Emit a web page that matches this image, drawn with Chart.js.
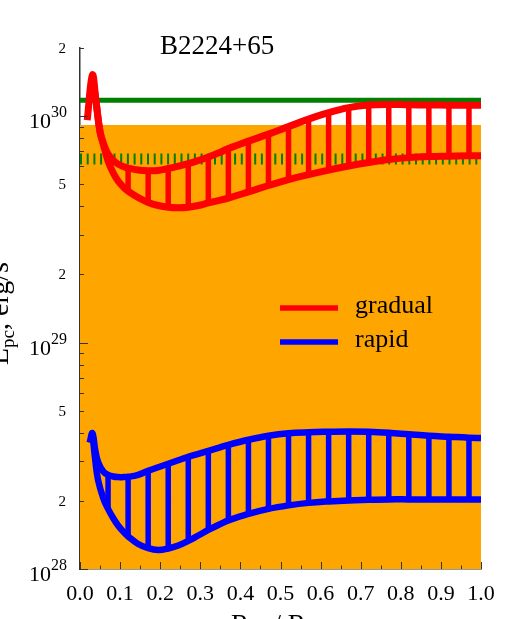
<!DOCTYPE html>
<html>
<head>
<meta charset="utf-8">
<script src="https://cdn.jsdelivr.net/npm/chart.js@4.4.0/dist/chart.umd.min.js"></script>
<style>
    html, body { margin: 0; padding: 0; background: #fff; }
</style>
</head>
<body>
<canvas id="chart" width="510" height="619"></canvas>
<script>
// 曲線數據 (x = 0..1)
const redX = [0.018, 0.031, 0.04, 0.05, 0.06, 0.07, 0.083, 0.095, 0.108, 0.12, 0.145, 0.17, 0.195, 0.22, 0.245, 0.27, 0.295, 0.32, 0.345, 0.37, 0.42, 0.47, 0.52, 0.57, 0.62, 0.67, 0.72, 0.77, 0.82, 0.87, 0.92, 0.97, 1.0];
const redUpper = [9.6e29, 1.52e30, 1.16e30, 8.53e29, 7.45e29, 6.8e29, 6.37e29, 6.14e29, 5.99e29, 5.9e29, 5.78e29, 5.74e29, 5.76e29, 5.87e29, 6.01e29, 6.17e29, 6.37e29, 6.6e29, 6.87e29, 7.19e29, 7.76e29, 8.33e29, 8.99e29, 9.7e29, 1.036e30, 1.09e30, 1.12e30, 1.127e30, 1.122e30, 1.12e30, 1.118e30, 1.117e30, 1.117e30];
const redLower = [null, 1.52e30, 1.16e30, 8.53e29, 7.3e29, 6.33e29, 5.61e29, 5.17e29, 4.87e29, 4.67e29, 4.375e29, 4.16e29, 4.03e29, 3.96e29, 3.94e29, 3.96e29, 4.03e29, 4.14e29, 4.24e29, 4.35e29, 4.63e29, 4.94e29, 5.25e29, 5.52e29, 5.78e29, 6.02e29, 6.24e29, 6.43e29, 6.56e29, 6.63e29, 6.66e29, 6.69e29, 6.69e29];

const blueX = [0.024, 0.031, 0.038, 0.045, 0.058, 0.07, 0.083, 0.095, 0.108, 0.12, 0.145, 0.17, 0.195, 0.22, 0.245, 0.27, 0.295, 0.32, 0.345, 0.37, 0.42, 0.47, 0.52, 0.57, 0.62, 0.67, 0.72, 0.77, 0.82, 0.87, 0.92, 0.97, 1.0];
const blueUpper = [3.61e28, 3.98e28, 3.36e28, 2.976e28, 2.695e28, 2.606e28, 2.561e28, 2.546e28, 2.546e28, 2.553e28, 2.606e28, 2.714e28, 2.813e28, 2.915e28, 3.021e28, 3.13e28, 3.227e28, 3.327e28, 3.43e28, 3.537e28, 3.722e28, 3.877e28, 3.977e28, 4.018e28, 4.038e28, 4.05e28, 4.038e28, 3.997e28, 3.936e28, 3.877e28, 3.838e28, 3.8e28, 3.79e28];
const blueLower = [null, 3.98e28, 3.035e28, 2.477e28, 2.055e28, 1.843e28, 1.676e28, 1.557e28, 1.462e28, 1.393e28, 1.29e28, 1.236e28, 1.214e28, 1.232e28, 1.27e28, 1.33e28, 1.406e28, 1.488e28, 1.565e28, 1.639e28, 1.751e28, 1.843e28, 1.91e28, 1.959e28, 1.989e28, 2.009e28, 2.02e28, 2.03e28, 2.03e28, 2.03e28, 2.03e28, 2.03e28, 2.03e28];

// 豎線位置
const hatchX = [0.07, 0.12, 0.17, 0.22, 0.27, 0.32, 0.37, 0.42, 0.47, 0.52, 0.57, 0.62, 0.67, 0.72, 0.77, 0.82, 0.87, 0.92, 0.97];

// 水平參考線
const orangeTop = 9.13e29;
const greenSolid = 1.176e30;
const greenDashed = 6.47e29;

// 刻度
const xTickValues = [0, 0.1, 0.2, 0.3, 0.4, 0.5, 0.6, 0.7, 0.8, 0.9, 1.0];
const xTickLabels = ['0.0', '0.1', '0.2', '0.3', '0.4', '0.5', '0.6', '0.7', '0.8', '0.9', '1.0'];
const yTickValues = [1e28, 2e28, 5e28, 1e29, 2e29, 5e29, 1e30, 2e30];
const yTickLabels = ['10^28', '2', '5', '10^29', '2', '5', '10^30', '2'];

const serif = '"Liberation Serif", "Times New Roman", serif';

function toPoints(xs, ys) {
    return xs.map((x, i) => ({ x: x, y: ys[i] }));
}

function hatchPoints(xs, upper, lower) {
    const pts = [];
    hatchX.forEach(hx => {
        const i = xs.indexOf(hx);
        if (i < 0) return;
        pts.push({ x: hx, y: lower[i] });
        pts.push({ x: hx, y: upper[i] });
        pts.push({ x: hx, y: null });
    });
    return pts;
}

function level(v) {
    return [{ x: 0, y: v }, { x: 1, y: v }];
}

function curve(xs, ys, color, width) {
    return {
        data: toPoints(xs, ys),
        borderColor: color,
        borderWidth: width,
        pointRadius: 0,
        tension: 0.4,
        order: 1
    };
}

// 文字與刻度
const decorPlugin = {
    id: 'decor',
    afterDraw(chart) {
        const ctx = chart.ctx;
        const xs = chart.scales.x;
        const ys = chart.scales.y;
        const area = chart.chartArea;
        ctx.save();

        // x 刻度 (朝內)
        ctx.strokeStyle = '#333';
        ctx.lineWidth = 1;
        xTickValues.forEach((v, i) => {
            const px = Math.round(xs.getPixelForValue(v)) + 0.5;
            ctx.beginPath();
            ctx.moveTo(px, area.bottom);
            ctx.lineTo(px, area.bottom - 7);
            ctx.stroke();
            if (i < xTickValues.length - 1) {
                const mx = Math.round(xs.getPixelForValue((v + xTickValues[i + 1]) / 2)) + 0.5;
                ctx.beginPath();
                ctx.moveTo(mx, area.bottom);
                ctx.lineTo(mx, area.bottom - 3.5);
                ctx.stroke();
            }
        });

        // y 刻度
        [1e28, 1e29, 1e30].forEach(d => {
            for (let m = 1; m <= 9; m++) {
                const v = d * m;
                if (v > 2e30) break;
                const py = Math.round(ys.getPixelForValue(v)) + 0.5;
                ctx.beginPath();
                ctx.moveTo(area.left, py);
                ctx.lineTo(area.left + (m === 1 ? 8 : 4), py);
                ctx.stroke();
            }
        });

        ctx.fillStyle = '#000';
        ctx.textBaseline = 'alphabetic';

        // x 刻度標籤
        ctx.font = '22px ' + serif;
        ctx.textAlign = 'center';
        xTickValues.forEach((v, i) => {
            ctx.fillText(xTickLabels[i], xs.getPixelForValue(v), 600);
        });

        // y 刻度標籤
        const labelRight = 67;
        yTickValues.forEach((v, i) => {
            const py = ys.getPixelForValue(v);
            const parts = yTickLabels[i].split('^');
            if (parts.length === 2) {
                ctx.font = '16px ' + serif;
                const wSup = ctx.measureText(parts[1]).width;
                ctx.textAlign = 'left';
                ctx.fillText(parts[1], labelRight - wSup, py + 1);
                ctx.font = '22px ' + serif;
                ctx.textAlign = 'right';
                ctx.fillText(parts[0], labelRight - wSup, py + 12);
            } else {
                ctx.font = '15px ' + serif;
                ctx.textAlign = 'right';
                ctx.fillText(parts[0], 66, py + 5);
            }
        });

        // 標題
        ctx.font = '27px ' + serif;
        ctx.textAlign = 'left';
        ctx.fillText('B2224+65', 160, 54);

        // 圖例
        const legendItems = [
            { label: 'gradual', color: '#ff0000', y: 308 },
            { label: 'rapid', color: '#0000ff', y: 342 }
        ];
        legendItems.forEach(item => {
            ctx.strokeStyle = item.color;
            ctx.lineWidth = 5.5;
            ctx.beginPath();
            ctx.moveTo(280, item.y);
            ctx.lineTo(338, item.y);
            ctx.stroke();
            ctx.font = '26px ' + serif;
            ctx.fillText(item.label, 355, item.y + 5);
        });

        // y 軸標題 (旋轉)
        ctx.save();
        ctx.translate(8, 365);
        ctx.rotate(-Math.PI / 2);
        ctx.textAlign = 'left';
        let tx = 0;
        ctx.font = '28px ' + serif;
        ctx.fillText('L', tx, 0);
        tx += ctx.measureText('L').width;
        ctx.font = '19px ' + serif;
        ctx.fillText('pc', tx, 6);
        tx += ctx.measureText('pc').width;
        ctx.font = '28px ' + serif;
        ctx.fillText(', erg/s', tx, 0);
        ctx.restore();

        // x 軸標題
        const pieces = [
            { t: 'R', f: 27, dy: 0 },
            { t: 'pc', f: 19, dy: 6 },
            { t: ' / R', f: 27, dy: 0 },
            { t: 'LC', f: 19, dy: 6 }
        ];
        let total = 0;
        pieces.forEach(p => {
            ctx.font = p.f + 'px ' + serif;
            p.w = ctx.measureText(p.t).width;
            total += p.w;
        });
        let sx = (area.left + area.right) / 2 - total / 2;
        ctx.textAlign = 'left';
        pieces.forEach(p => {
            ctx.font = p.f + 'px ' + serif;
            ctx.fillText(p.t, sx, 633 + p.dy);
            sx += p.w;
        });

        ctx.restore();
    }
};

const ctx = document.getElementById('chart').getContext('2d');
new Chart(ctx, {
    type: 'line',
    data: {
        datasets: [
            {
                data: level(orangeTop),
                fill: 'start',
                backgroundColor: '#ffa500',
                borderWidth: 0,
                pointRadius: 0,
                order: 10
            },
            {
                data: level(greenDashed),
                borderColor: '#008000',
                borderWidth: 11,
                borderDash: [2, 4.7],
                pointRadius: 0,
                order: 9
            },
            {
                data: level(greenSolid),
                borderColor: '#008000',
                borderWidth: 5,
                pointRadius: 0,
                order: 8
            },
            {
                data: hatchPoints(redX, redUpper, redLower),
                borderColor: '#ff0000',
                borderWidth: 5.5,
                pointRadius: 0,
                spanGaps: false,
                tension: 0,
                order: 5
            },
            {
                data: hatchPoints(blueX, blueUpper, blueLower),
                borderColor: '#0000ff',
                borderWidth: 5.5,
                pointRadius: 0,
                spanGaps: false,
                tension: 0,
                order: 5
            },
            curve(redX, redUpper, '#ff0000', 7),
            curve(redX, redLower, '#ff0000', 7),
            curve(blueX, blueUpper, '#0000ff', 6.5),
            curve(blueX, blueLower, '#0000ff', 6.5)
        ]
    },
    options: {
        responsive: false,
        animation: false,
        layout: { padding: { left: 80, right: 29, top: 48, bottom: 50 } },
        plugins: {
            legend: { display: false },
            tooltip: { enabled: false },
            title: { display: false }
        },
        scales: {
            x: {
                type: 'linear',
                min: 0,
                max: 1,
                offset: false,
                ticks: { display: false },
                grid: { display: false, drawTicks: false },
                border: { display: true, color: '#333', width: 1.5 },
                afterFit(scale) { scale.height = 0; }
            },
            y: {
                type: 'logarithmic',
                min: 1e28,
                max: 2e30,
                ticks: { display: false },
                grid: { display: false, drawTicks: false },
                border: { display: true, color: '#333', width: 1.5 },
                afterFit(scale) { scale.width = 0; }
            }
        }
    },
    plugins: [decorPlugin]
});
</script>
</body>
</html>
